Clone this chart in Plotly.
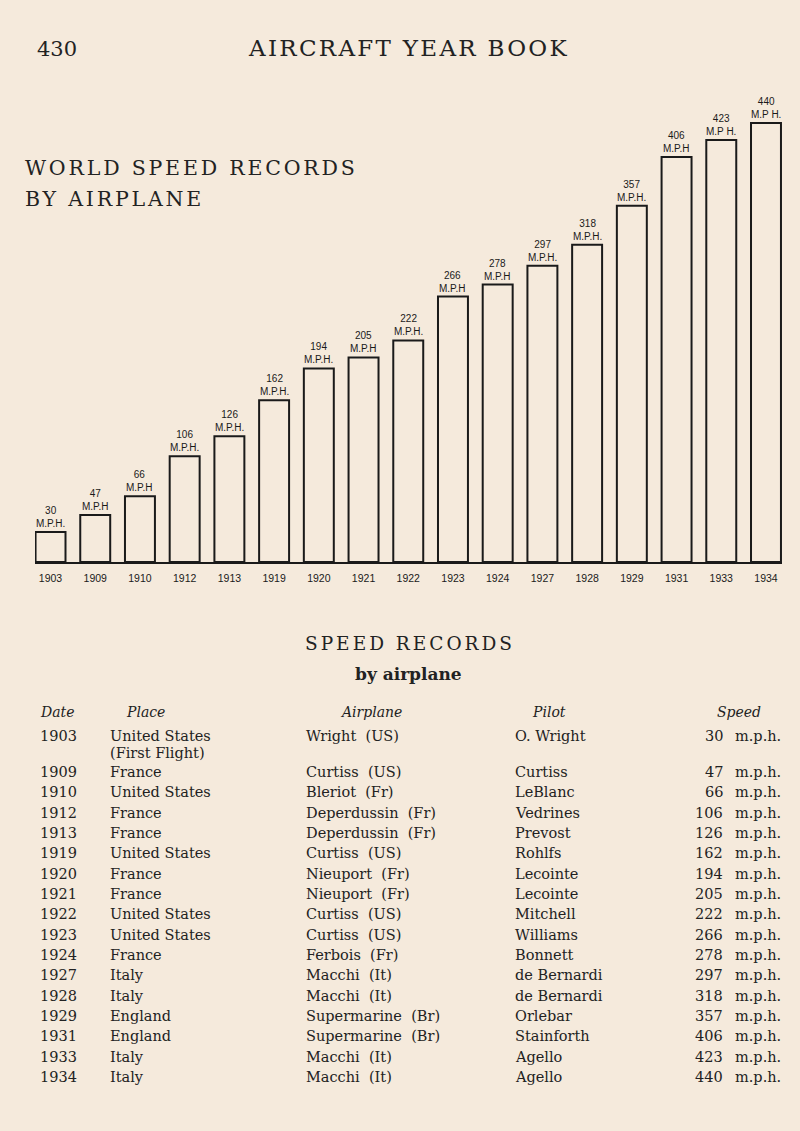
import plotly.graph_objects as go

# ---------------- data ----------------
years = ["1903", "1909", "1910", "1912", "1913", "1919", "1920", "1921", "1922",
         "1923", "1924", "1927", "1928", "1929", "1931", "1933", "1934"]
speeds = [30, 47, 66, 106, 126, 162, 194, 205, 222, 266, 278, 297, 318, 357, 406, 423, 440]
unit_labels = ["M.P.H.", "M.P.H", "M.P.H", "M.P.H.", "M.P.H.", "M.P.H.", "M.P.H.", "M.P.H",
               "M.P.H.", "M.P.H", "M.P.H", "M.P.H.", "M.P.H.", "M.P.H.", "M.P.H", "M.P H.", "M.P H."]

places = ["United States<br>(First Flight)", "France", "United States", "France", "France",
          "United States", "France", "France", "United States", "United States", "France",
          "Italy", "Italy", "England", "England", "Italy", "Italy"]
airplanes = ["Wright  (US)", "Curtiss  (US)", "Bleriot  (Fr)", "Deperdussin  (Fr)",
             "Deperdussin  (Fr)", "Curtiss  (US)", "Nieuport  (Fr)", "Nieuport  (Fr)",
             "Curtiss  (US)", "Curtiss  (US)", "Ferbois  (Fr)", "Macchi  (It)", "Macchi  (It)",
             "Supermarine  (Br)", "Supermarine  (Br)", "Macchi  (It)", "Macchi  (It)"]
pilots = ["O. Wright", "Curtiss", "LeBlanc", "Vedrines", "Prevost", "Rohlfs", "Lecointe",
          "Lecointe", "Mitchell", "Williams", "Bonnett", "de Bernardi", "de Bernardi",
          "Orlebar", "Stainforth", "Agello", "Agello"]
table_headers = ["Date", "Place", "Airplane", "Pilot", "Speed"]
speed_unit = "m.p.h."

page_number = "430"
running_head = "AIRCRAFT YEAR BOOK"
chart_title = ["WORLD SPEED RECORDS", "BY AIRPLANE"]
table_title = "SPEED RECORDS"
table_subtitle = "by airplane"

# ---------------- style / layout ----------------
BG = "#f5eadc"
INK = "#1a1a1a"
TXT = "#222222"
SERIF = "DejaVu Serif, serif"
SANS = "Liberation Sans Narrow, Liberation Sans, Arial, sans-serif"

W, H = 800, 1131
ML, MR, MT, MB = 35, 18, 103, 569
PL, PR, PT, PB = ML, W - MR, MT, H - MB


def px(xp):
    return (xp - PL) / (PR - PL)


def py(yp):
    return (PB - yp) / (PB - PT)


def spaced(text, ls):
    return f'<span style="letter-spacing:{ls}px">{text}</span>'


fig = go.Figure()
fig.add_trace(go.Bar(
    x=years, y=speeds,
    marker=dict(color="rgba(0,0,0,0)", line=dict(color=INK, width=2)),
    cliponaxis=False,
    hoverinfo="x+y", showlegend=False,
))

annotations = []
# bar value labels (x = category index on the category axis)
for i, (v, u) in enumerate(zip(speeds, unit_labels)):
    annotations.append(dict(x=i, y=v, xref="x", yref="y", text=f"{v}<br>{u}", showarrow=False,
                            yanchor="bottom", yshift=1,
                            font=dict(family=SANS, size=10, color=INK)))

# page header
annotations.append(dict(x=px(35), y=py(49), xref="paper", yref="paper", text=page_number,
                        showarrow=False, xanchor="left", yanchor="middle",
                        font=dict(family=SERIF, size=21, color=TXT)))
annotations.append(dict(x=px(408), y=py(48), xref="paper", yref="paper",
                        text=spaced(running_head, 2.3),
                        showarrow=False, xanchor="center", yanchor="middle",
                        font=dict(family=SERIF, size=23, color=TXT)))
# chart title
for i, line in enumerate(chart_title):
    annotations.append(dict(x=px(23), y=py(168 + 31 * i), xref="paper", yref="paper",
                            text=spaced(line, 2.8),
                            showarrow=False, xanchor="left", yanchor="middle",
                            font=dict(family=SERIF, size=20.5, color=TXT)))

# table title
annotations.append(dict(x=px(410), y=py(643), xref="paper", yref="paper",
                        text=spaced(table_title, 3),
                        showarrow=False, xanchor="center", yanchor="middle",
                        font=dict(family=SERIF, size=18.5, color=TXT)))
annotations.append(dict(x=px(408), y=py(674), xref="paper", yref="paper",
                        text="<b>" + table_subtitle + "</b>",
                        showarrow=False, xanchor="center", yanchor="middle",
                        font=dict(family=SERIF, size=17, color=TXT)))

# table headers
hdr_x = [38, 124, 338, 530, 763]
hdr_anchor = ["left", "left", "left", "left", "right"]
for t, xx, a in zip(table_headers, hdr_x, hdr_anchor):
    annotations.append(dict(x=px(xx), y=py(712), xref="paper", yref="paper", text="<i>" + t + "</i>",
                            showarrow=False, xanchor=a, yanchor="middle",
                            font=dict(family=SERIF, size=14, color=TXT)))

# table rows
col_x = [38, 108, 304, 513]
cell_font = dict(family=SERIF, size=14.5, color=TXT)
for i in range(len(years)):
    yrow = 736 if i == 0 else 772 + (i - 1) * 20.33
    cells = [years[i], places[i], airplanes[i], pilots[i]]
    for c, xx in zip(cells, col_x):
        for k, part in enumerate(c.split("<br>")):
            annotations.append(dict(x=px(xx), y=py(yrow + 17 * k), xref="paper", yref="paper",
                                    text=part, showarrow=False,
                                    xanchor="left", yanchor="middle", font=cell_font))
    annotations.append(dict(x=px(725), y=py(yrow), xref="paper", yref="paper",
                            text=str(speeds[i]), showarrow=False,
                            xanchor="right", yanchor="middle", font=cell_font))
    annotations.append(dict(x=px(733), y=py(yrow), xref="paper", yref="paper",
                            text=speed_unit, showarrow=False,
                            xanchor="left", yanchor="middle", font=cell_font))

fig.update_layout(
    width=W, height=H,
    margin=dict(l=ML, r=MR, t=MT, b=MB, pad=0),
    paper_bgcolor=BG, plot_bgcolor=BG,
    bargap=0.33,
    annotations=annotations,
    xaxis=dict(type="category", range=[-0.347, 16.358], showgrid=False, zeroline=False,
               showline=True, linecolor=INK, linewidth=2, ticks="",
               ticklabelstandoff=5,
               tickfont=dict(family=SANS, size=10.5, color=INK)),
    yaxis=dict(range=[0, 460], showgrid=False, zeroline=False, showline=False,
               showticklabels=False, ticks=""),
)

fig.write_html("out.html",
               config={"displayModeBar": False},
               post_script="document.body.style.margin='0';document.body.style.background='" + BG + "';")
